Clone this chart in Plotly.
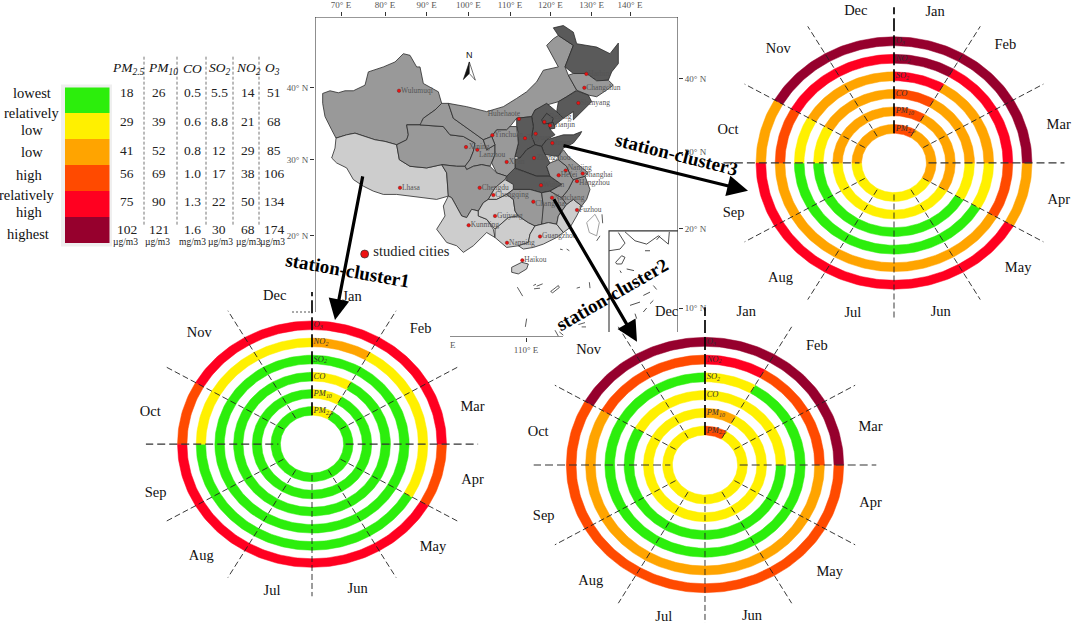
import numpy as np
import plotly.graph_objects as go

W, H = 1072, 623
SERIF = "Liberation Serif"

# ---- data ----
months = ["Jan", "Feb", "Mar", "Apr", "May", "Jun", "Jul", "Aug", "Sep", "Oct", "Nov", "Dec"]
month_label_angles = [14, 41, 76, 104, 133, 164, 194, 222, 251, 282, 317, 347]
ring_names = ["PM<sub>2.5</sub>", "PM<sub>10</sub>", "CO", "SO<sub>2</sub>", "NO<sub>2</sub>", "O<sub>3</sub>"]

level_names = ["lowest", "relatively", "low", "low", "high", "relatively", "high", "highest"]
level_colors = ["#2CEE0C", "#FFF000", "#FFA400", "#FF4A00", "#FF0020", "#96002D"]

# level index per month, inner ring first
cluster1_pm25 = [1, 0, 0, 0, 0, 0, 0, 0, 0, 0, 0, 0]
cluster1_pm10 = [1, 0, 0, 0, 0, 0, 0, 0, 0, 0, 0, 0]
cluster1_co = [1, 0, 0, 0, 0, 0, 0, 0, 0, 0, 0, 0]
cluster1_so2 = [0, 0, 0, 0, 0, 0, 0, 0, 0, 0, 0, 0]
cluster1_no2 = [2, 1, 1, 1, 0, 0, 0, 0, 0, 1, 1, 1]
cluster1_o3 = [4, 4, 4, 3, 4, 4, 4, 4, 4, 3, 4, 4]

cluster2_pm25 = [3, 1, 1, 1, 1, 1, 1, 1, 1, 1, 1, 1]
cluster2_pm10 = [2, 1, 1, 1, 1, 1, 1, 1, 1, 1, 1, 1]
cluster2_co = [1, 1, 1, 0, 0, 0, 0, 0, 0, 0, 1, 1]
cluster2_so2 = [1, 0, 0, 0, 0, 0, 0, 0, 0, 0, 0, 0]
cluster2_no2 = [4, 3, 3, 2, 2, 2, 2, 2, 2, 2, 3, 3]
cluster2_o3 = [5, 5, 5, 3, 3, 3, 3, 3, 3, 3, 5, 5]

cluster3_pm25 = [3, 2, 2, 2, 1, 1, 1, 1, 1, 2, 2, 2]
cluster3_pm10 = [3, 2, 2, 2, 1, 1, 1, 1, 1, 2, 2, 2]
cluster3_co = [3, 2, 2, 1, 0, 0, 0, 0, 0, 1, 2, 2]
cluster3_so2 = [4, 2, 2, 1, 0, 0, 0, 0, 0, 1, 2, 2]
cluster3_no2 = [5, 4, 4, 3, 2, 2, 2, 2, 2, 3, 4, 4]
cluster3_o3 = [5, 5, 5, 2, 4, 4, 4, 4, 4, 2, 5, 5]

# legend table
table_headers = ["PM<sub>2.5</sub>", "PM<sub>10</sub>", "CO", "SO<sub>2</sub>", "NO<sub>2</sub>", "O<sub>3</sub>"]
table_pm25 = ["18", "29", "41", "56", "75", "102"]
table_pm10 = ["26", "39", "52", "69", "90", "121"]
table_co = ["0.5", "0.6", "0.8", "1.0", "1.3", "1.6"]
table_so2 = ["5.5", "8.8", "12", "17", "22", "30"]
table_no2 = ["14", "21", "29", "38", "50", "68"]
table_o3 = ["51", "68", "85", "106", "134", "174"]
table_units = ["µg/m3", "µg/m3", "mg/m3", "µg/m3", "µg/m3", "µg/m3"]

# map outlines in map-plane units
GREY_D, GREY_M, GREY_L = "#5A5A5A", "#999999", "#CDCDCD"
xinjiang = [(38, 270), (60, 262), (85, 268), (105, 262), (130, 262), (165, 245), (175, 205), (220, 190), (255, 175), (280, 150), (300, 155), (320, 190), (330, 190), (340, 240), (385, 265), (395, 300), (375, 320), (340, 345), (335, 355), (350, 360), (330, 365), (290, 365), (295, 395), (290, 410), (260, 425), (225, 415), (195, 410), (165, 400), (135, 390), (110, 395), (78, 405), (65, 380), (45, 340), (38, 300)]
tibet = [(78, 405), (110, 395), (135, 390), (165, 400), (195, 410), (225, 415), (260, 425), (268, 470), (300, 490), (350, 495), (395, 485), (410, 510), (415, 580), (380, 590), (340, 585), (300, 580), (260, 575), (220, 575), (190, 565), (160, 550), (130, 530), (110, 495), (80, 480), (65, 465), (75, 435)]
qinghai = [(290, 365), (330, 365), (400, 370), (420, 395), (460, 400), (495, 420), (490, 445), (480, 470), (465, 490), (440, 490), (395, 485), (350, 495), (300, 490), (268, 470), (260, 425), (290, 410), (295, 395)]
gansu = [(335, 355), (340, 345), (375, 320), (395, 300), (415, 300), (430, 345), (500, 395), (520, 410), (530, 440), (555, 425), (555, 455), (545, 480), (540, 490), (515, 485), (490, 490), (470, 500), (465, 490), (480, 470), (490, 445), (495, 420), (460, 400), (420, 395), (400, 370), (330, 365)]
inner_mongolia = [(415, 300), (470, 310), (530, 325), (580, 310), (620, 285), (650, 265), (680, 235), (700, 200), (745, 190), (710, 125), (730, 105), (745, 95), (790, 125), (765, 190), (775, 215), (800, 260), (770, 280), (745, 295), (710, 305), (675, 320), (665, 340), (620, 345), (600, 370), (590, 380), (560, 380), (545, 400), (520, 410), (500, 395), (430, 345)]
heilongjiang = [(730, 72), (760, 65), (790, 85), (800, 120), (860, 130), (900, 150), (925, 118), (925, 180), (905, 205), (895, 230), (860, 232), (830, 210), (790, 210), (765, 190), (790, 125), (745, 95)]
jilin = [(775, 215), (790, 210), (830, 210), (860, 232), (895, 230), (910, 245), (890, 260), (860, 280), (835, 275), (810, 265), (800, 260)]
liaoning = [(800, 262), (835, 275), (845, 295), (820, 320), (790, 350), (790, 325), (760, 345), (740, 325), (745, 295), (770, 280)]
hebei = [(665, 340), (675, 320), (710, 300), (740, 325), (760, 345), (730, 370), (720, 378), (735, 395), (710, 410), (695, 430), (675, 425), (665, 400), (670, 370)]
beijing = [(695, 350), (710, 330), (730, 345), (725, 360), (700, 362)]
tianjin = [(715, 360), (730, 358), (735, 375), (720, 378)]
shanxi = [(620, 345), (665, 340), (670, 370), (665, 400), (675, 425), (650, 440), (630, 465), (615, 460), (625, 420), (625, 390), (620, 370)]
shandong = [(695, 430), (710, 410), (760, 395), (790, 395), (815, 385), (810, 395), (790, 420), (760, 435), (745, 460), (705, 455), (700, 445)]
henan = [(630, 465), (650, 440), (675, 425), (695, 430), (700, 445), (705, 455), (720, 480), (710, 490), (720, 520), (680, 520), (640, 505), (615, 495), (615, 470)]
hubei = [(590, 520), (610, 495), (640, 505), (680, 520), (720, 520), (755, 545), (720, 565), (695, 570), (660, 560), (610, 560), (590, 572)]
shaanxi = [(590, 380), (600, 370), (620, 370), (625, 420), (615, 460), (615, 495), (590, 520), (560, 510), (545, 480), (555, 455), (555, 425), (545, 400), (560, 380)]
ningxia = [(520, 410), (545, 400), (555, 425), (530, 440)]
sichuan = [(395, 485), (440, 490), (465, 490), (470, 500), (490, 490), (515, 485), (540, 490), (560, 510), (590, 520), (585, 530), (555, 555), (535, 590), (520, 600), (505, 625), (485, 620), (470, 645), (455, 640), (425, 585), (415, 580), (410, 510)]
chongqing = [(585, 530), (610, 545), (610, 560), (590, 575), (560, 590), (535, 590), (555, 555)]
yunnan = [(415, 580), (425, 585), (455, 640), (470, 645), (485, 620), (505, 625), (505, 640), (530, 650), (550, 680), (555, 705), (530, 690), (490, 730), (460, 750), (440, 730), (410, 720), (380, 680), (405, 640), (400, 610)]
guizhou = [(505, 625), (520, 600), (535, 590), (560, 590), (590, 575), (610, 590), (615, 625), (625, 640), (595, 645), (555, 680), (530, 650), (505, 640)]
guangxi = [(555, 680), (595, 645), (625, 640), (655, 660), (675, 670), (660, 695), (655, 720), (625, 730), (590, 735), (555, 705)]
hunan = [(590, 575), (610, 560), (660, 560), (695, 570), (700, 610), (700, 640), (695, 665), (675, 670), (655, 660), (625, 640), (615, 625), (610, 590)]
jiangxi = [(695, 570), (720, 565), (755, 585), (770, 605), (745, 640), (740, 665), (715, 660), (695, 665), (700, 610)]
guangdong = [(655, 720), (660, 695), (675, 670), (695, 665), (715, 660), (740, 665), (760, 690), (740, 705), (700, 725), (670, 735), (640, 740), (625, 730)]
fujian = [(770, 605), (790, 590), (815, 610), (800, 640), (780, 675), (760, 690), (740, 665), (745, 640)]
zhejiang = [(790, 530), (825, 520), (840, 560), (830, 590), (815, 610), (790, 590), (770, 605), (755, 585), (775, 560)]
anhui = [(720, 480), (745, 470), (770, 490), (785, 525), (790, 530), (775, 560), (755, 585), (720, 565), (755, 545), (720, 520), (710, 490)]
jiangsu = [(745, 460), (760, 440), (775, 460), (810, 490), (835, 510), (825, 520), (790, 530), (785, 525), (770, 490), (745, 470)]
hainan = [(605, 795), (635, 780), (655, 785), (650, 800), (625, 815), (605, 810)]

provinces = [
    (xinjiang, GREY_M), (tibet, GREY_L), (qinghai, GREY_M), (gansu, GREY_M),
    (inner_mongolia, GREY_M), (heilongjiang, GREY_D), (jilin, GREY_M), (liaoning, GREY_D),
    (hebei, GREY_D), (beijing, GREY_D), (tianjin, GREY_D), (shanxi, GREY_D), (shandong, GREY_D),
    (henan, GREY_D), (hubei, GREY_D), (shaanxi, GREY_M), (ningxia, GREY_M), (sichuan, GREY_M),
    (chongqing, GREY_L), (yunnan, GREY_L), (guizhou, GREY_L), (guangxi, GREY_L), (hunan, GREY_M),
    (jiangxi, GREY_M), (guangdong, GREY_L), (fujian, GREY_L), (zhejiang, GREY_M), (anhui, GREY_M),
    (jiangsu, GREY_M), (hainan, GREY_L),
]

city_names = ["Wulumuqi", "Lhasa", "Huhehaote", "Yinchuan", "Xining", "Lanzhou", "Xi'an", "Taiyuan", "Beijing", "Tianjin", "Jinan", "Zhengzhou", "Nanjing", "Hefei", "Shanghai", "Hangzhou", "Wuhan", "Nanchang", "Changsha", "Chengdu", "Chongqing", "Guiyang", "Kunming", "Nanning", "Guangzhou", "Fuzhou", "Haikou", "Harbin", "Changchun", "Shenyang"]
city_x = [267, 270, 627, 547, 468, 502, 590, 645, 703, 720, 727, 672, 767, 746, 818, 801, 693, 726, 670, 509, 550, 555, 476, 591, 690, 801, 637, 829, 823, 805, 677]
city_y = [262, 555, 347, 396, 432, 440, 477, 405, 356, 367, 420, 465, 503, 517, 512, 535, 547, 585, 597, 555, 577, 640, 668, 721, 702, 622, 774, 211, 253, 299, 392]
label_x = [273, 276, 533, 553, 476, 507, 596, 651, 718, 731, 733, 680, 773, 752, 824, 807, 699, 732, 676, 515, 556, 561, 482, 597, 696, 807, 643, 835, 829, 811]
label_y = [262, 555, 332, 396, 432, 455, 477, 405, 343, 367, 420, 465, 495, 517, 517, 540, 547, 585, 605, 555, 577, 640, 668, 721, 702, 622, 774, 211, 253, 299]

taiwan = [(830, 660), (855, 635), (868, 660), (860, 700), (838, 690), (830, 660)]
sea_strokes = [
    [(876, 635), (878, 662)], [(860, 715), (870, 700)], [(750, 740), (758, 742)], [(770, 740), (778, 745)],
    [(622, 855), (638, 882)], [(722, 868), (745, 850), (748, 856), (728, 872), (722, 868)], [(838, 840), (840, 858)],
    [(800, 858), (810, 855)], [(650, 950), (646, 975)], [(670, 850), (678, 846)], [(672, 860), (690, 858)], [(680, 852), (698, 845)],
    [(805, 968), (825, 962)], [(815, 975), (828, 975)], [(748, 990), (760, 1000)], [(735, 985), (745, 1003)],
]
inset_strokes = [
    [(897, 745), (930, 740), (945, 722), (935, 705), (925, 690)],
    [(945, 688), (975, 715), (1010, 725), (1045, 700), (1075, 725), (1078, 688)],
    [(1040, 712), (1050, 700)], [(917, 780), (935, 760), (945, 765), (935, 785), (920, 785), (917, 780)],
    [(930, 805), (934, 812)], [(950, 800), (972, 805)], [(1005, 745), (1020, 745)],
    [(1030, 850), (1040, 862)], [(1000, 880), (1020, 870)], [(960, 910), (990, 900)], [(1020, 905), (1030, 895)],
    [(975, 935), (980, 950)], [(1000, 930), (1010, 918)],
]
north_left = [(478, 175), (460, 228), (478, 210)]
north_right = [(478, 175), (496, 230), (478, 210)]

# ---- figure ----
fig = go.Figure()
layout_extra = {}
annotations = []
shapes = []


def px_domain(x0, x1, y0, y1):
    return [x0 / W, x1 / W], [1 - y1 / H, 1 - y0 / H]


# full page helper axis for the text
layout_extra["xaxis"] = dict(domain=[0, 1], range=[0, W], visible=False, fixedrange=True)
layout_extra["yaxis"] = dict(domain=[0, 1], range=[H, 0], visible=False, fixedrange=True)
fig.add_trace(go.Scatter(x=[0], y=[0], mode="markers", marker=dict(opacity=0), showlegend=False, hoverinfo="skip"))


def note(x, y, text, size=14, color="#111111", **kw):
    annotations.append(dict(x=x, y=y, xref="x", yref="y", text=text, showarrow=False,
                            font=dict(family=SERIF, size=size, color=color), **kw))


def arrow(x0, y0, x1, y1):
    annotations.append(dict(x=x1, y=y1, ax=x0, ay=y0, xref="x", yref="y", axref="x", ayref="y", text="",
                            showarrow=True, arrowhead=2, arrowsize=1.3, arrowwidth=3.2, arrowcolor="#000000"))


# ---- map ----
MAP_RANGE_X = [15, 1104]
MAP_RANGE_Y = [1005, 39]
dx, dy = px_domain(315, 678, 13, 335)
tick_font = dict(family=SERIF, size=9, color="#555555")
layout_extra["xaxis2"] = dict(domain=dx, range=MAP_RANGE_X, anchor="y2", side="top", showgrid=False, zeroline=False,
                              ticks="outside", ticklen=4, tickcolor="#333333", tickfont=tick_font,
                              tickvals=[93, 225, 350, 475, 600, 721, 845, 960],
                              ticktext=["70° E", "80° E", "90° E", "100° E", "110° E", "120° E", "130° E", "140° E"],
                              fixedrange=True)
layout_extra["yaxis2"] = dict(domain=dy, range=MAP_RANGE_Y, anchor="x2", side="left", showgrid=False, zeroline=False,
                              ticks="outside", ticklen=4, tickcolor="#333333", tickfont=tick_font,
                              tickvals=[252, 471, 699], ticktext=["40° N", "30° N", "20° N"], fixedrange=True)
layout_extra["xaxis3"] = dict(range=MAP_RANGE_X, domain=dx, anchor="y3", overlaying="x2", side="bottom", showgrid=False, zeroline=False,
                              ticks="outside", ticklen=4, tickcolor="#333333", tickfont=tick_font,
                              tickvals=[648], ticktext=["110° E"], fixedrange=True)
layout_extra["yaxis3"] = dict(range=MAP_RANGE_Y, domain=dy, anchor="x3", overlaying="y2", side="right", showgrid=False, zeroline=False,
                              ticks="outside", ticklen=4, tickcolor="#333333", tickfont=tick_font,
                              tickvals=[225, 447, 678, 918], ticktext=["40° N", "30° N", "20° N", "10° N"], fixedrange=True)

for poly, colour in provinces:
    xs = [p[0] for p in poly] + [poly[0][0]]
    ys = [p[1] for p in poly] + [poly[0][1]]
    fig.add_trace(go.Scatter(x=xs, y=ys, mode="lines", fill="toself", fillcolor=colour, xaxis="x2", yaxis="y2",
                             line=dict(color="#2A2A2A", width=0.8), showlegend=False, hoverinfo="skip"))


def strokes(groups, colour, width, axes=("x2", "y2")):
    xs, ys = [], []
    for g in groups:
        xs += [p[0] for p in g] + [None]
        ys += [p[1] for p in g] + [None]
    fig.add_trace(go.Scatter(x=xs, y=ys, mode="lines", line=dict(color=colour, width=width), xaxis=axes[0], yaxis=axes[1],
                             showlegend=False, hoverinfo="skip", cliponaxis=False))


strokes([taiwan], "#888888", 0.8)
strokes(sea_strokes, "#333333", 0.8)
strokes(inset_strokes, "#222222", 0.8)
# frame, only the parts the ring charts do not cover
strokes([[(15, 930), (15, 39), (1104, 39), (1104, 990)], [(420, 1005), (759, 1005)],
         [(897, 990), (897, 685), (1104, 685)]], "#333333", 1.1, axes=("x3", "y3"))

fig.add_trace(go.Scatter(x=[p[0] for p in north_left] + [north_left[0][0]], y=[p[1] for p in north_left] + [north_left[0][1]],
                         mode="lines", fill="toself", fillcolor="#111111", line=dict(color="#111111", width=0.6),
                         xaxis="x2", yaxis="y2", showlegend=False, hoverinfo="skip"))
fig.add_trace(go.Scatter(x=[p[0] for p in north_right] + [north_right[0][0]], y=[p[1] for p in north_right] + [north_right[0][1]],
                         mode="lines", fill="toself", fillcolor="#FFFFFF", line=dict(color="#111111", width=0.6),
                         xaxis="x2", yaxis="y2", showlegend=False, hoverinfo="skip"))
fig.add_trace(go.Scatter(x=[478], y=[155], mode="text", text=["N"], textfont=dict(family="Liberation Sans", size=9, color="#111111"),
                         xaxis="x2", yaxis="y2", showlegend=False, hoverinfo="skip"))

fig.add_trace(go.Scatter(x=city_x, y=city_y, mode="markers", marker=dict(color="#EE1111", size=3.5, line=dict(color="#552222", width=0.4)),
                         xaxis="x2", yaxis="y2", showlegend=False, hoverinfo="skip"))
fig.add_trace(go.Scatter(x=label_x, y=label_y, mode="text", text=city_names, textposition="middle right",
                         textfont=dict(family=SERIF, size=7.5, color="#555555"),
                         xaxis="x2", yaxis="y2", showlegend=False, hoverinfo="skip"))
fig.add_trace(go.Scatter(x=[164], y=[755], mode="markers", marker=dict(color="#EE1111", size=8, line=dict(color="#333333", width=0.7)),
                         xaxis="x2", yaxis="y2", showlegend=False, hoverinfo="skip"))
fig.add_trace(go.Scatter(x=[190], y=[750], mode="text", text=["studied cities"], textposition="middle right",
                         textfont=dict(family=SERIF, size=14.5, color="#222222"),
                         xaxis="x2", yaxis="y2", showlegend=False, hoverinfo="skip"))
note(453, 343, "E", size=9, color="#555555")
shapes.append(dict(type="line", xref="x", yref="y", x0=292, x1=311, y0=310, y1=310, line=dict(color="#555555", width=1, dash="2px,2px")))

# ---- ring charts ----
RING_OUTER = [0.305, 0.444, 0.583, 0.722, 0.861, 1.0]
RING_WIDTH = 0.07
BOX = 1.235


def arc_polygon(r_out, r_in, a0, a1):
    t = np.radians(np.linspace(a0, a1, 24))
    xs = list(r_out * np.sin(t)) + list(r_in * np.sin(t[::-1])) + [r_out * np.sin(t[0])]
    ys = list(r_out * np.cos(t)) + list(r_in * np.cos(t[::-1])) + [r_out * np.cos(t[0])]
    return xs, ys


def ring_chart(idx, cx, cy, rx, ry, rings):
    xa, ya = f"x{idx}", f"y{idx}"
    dx, dy = px_domain(cx - BOX * rx, cx + BOX * rx, cy - BOX * ry, cy + BOX * ry)
    layout_extra[f"xaxis{idx}"] = dict(domain=dx, range=[-BOX, BOX], visible=False, anchor=ya, fixedrange=True)
    layout_extra[f"yaxis{idx}"] = dict(domain=dy, range=[-BOX, BOX], visible=False, anchor=xa, fixedrange=True)
    for level, colour in enumerate(level_colors):
        xs, ys = [], []
        for ring, values in enumerate(rings):
            for m, v in enumerate(values):
                if v == level:
                    px, py = arc_polygon(RING_OUTER[ring], RING_OUTER[ring] - RING_WIDTH, 30 * m, 30 * (m + 1))
                    xs += px + [None]
                    ys += py + [None]
        if xs:
            fig.add_trace(go.Scatter(x=xs, y=ys, mode="lines", fill="toself", fillcolor=colour, line=dict(color=colour, width=0.5),
                                     xaxis=xa, yaxis=ya, showlegend=False, hoverinfo="skip"))
    # spokes
    xs, ys = [], []
    for a in range(30, 360, 30):
        if a in (90, 270):
            continue
        t = np.radians(a)
        r0, r1 = (0.245, 1.25) if a % 90 else (0.25, 1.31)
        xs += [r0 * np.sin(t), r1 * np.sin(t), None]
        ys += [r0 * np.cos(t), r1 * np.cos(t), None]
    fig.add_trace(go.Scatter(x=xs, y=ys, mode="lines", line=dict(color="#222222", width=0.9, dash="6px,3px"),
                             xaxis=xa, yaxis=ya, showlegend=False, hoverinfo="skip", cliponaxis=False))
    fig.add_trace(go.Scatter(x=[-1.24, -0.25, None, 0.25, 1.24], y=[0, 0, None, 0, 0], mode="lines",
                             line=dict(color="#333333", width=1.2, dash="8px,4px"),
                             xaxis=xa, yaxis=ya, showlegend=False, hoverinfo="skip", cliponaxis=False))
    fig.add_trace(go.Scatter(x=[0, 0], y=[0.235, 1.31], mode="lines", line=dict(color="#000000", width=1.7, dash="13px,4px"),
                             xaxis=xa, yaxis=ya, showlegend=False, hoverinfo="skip", cliponaxis=False))
    # ring names
    fig.add_trace(go.Scatter(x=[0.012] * 6, y=[r - RING_WIDTH / 2 for r in RING_OUTER],
                             mode="text", text=[f"<i>{n}</i>" for n in ring_names], textposition="middle right",
                             textfont=dict(family=SERIF, size=8.5, color="#333333"),
                             xaxis=xa, yaxis=ya, showlegend=False, hoverinfo="skip", cliponaxis=False))
    # month names
    t = np.radians(month_label_angles)
    fig.add_trace(go.Scatter(x=1.23 * np.sin(t), y=1.23 * np.cos(t), mode="text", text=months,
                             textfont=dict(family=SERIF, size=14.5, color="#111111"),
                             xaxis=xa, yaxis=ya, showlegend=False, hoverinfo="skip", cliponaxis=False))


ring_chart(4, 312, 443, 134.5, 124, [cluster1_pm25, cluster1_pm10, cluster1_co, cluster1_so2, cluster1_no2, cluster1_o3])
ring_chart(5, 705, 464, 138.7, 128.5, [cluster2_pm25, cluster2_pm10, cluster2_co, cluster2_so2, cluster2_no2, cluster2_o3])
ring_chart(6, 894, 160, 138, 127, [cluster3_pm25, cluster3_pm10, cluster3_co, cluster3_so2, cluster3_no2, cluster3_o3])

# ---- legend table ----
shapes.append(dict(type="rect", xref="x", yref="y", x0=61, x1=112, y0=81, y1=244, fillcolor="#EFEFEF", line=dict(width=0), layer="below"))
dx, dy = px_domain(65, 109.5, 84, 241)
layout_extra["xaxis7"] = dict(domain=dx, visible=False, anchor="y7", fixedrange=True)
layout_extra["yaxis7"] = dict(domain=dy, range=[6, 0], visible=False, anchor="x7", fixedrange=True)
for colour in level_colors:
    fig.add_trace(go.Bar(x=["swatch"], y=[1], marker=dict(color=colour, line=dict(width=0)), width=1,
                         xaxis="x7", yaxis="y7", showlegend=False, hoverinfo="skip"))

column_x = [127, 159, 192, 219, 248, 274]
header_x = [128, 163, 192, 220, 248, 272]
row_y = [89.5, 118, 147, 171, 199, 227]
unit_x = [125, 157, 192, 220, 248, 272]
columns = [table_pm25, table_pm10, table_co, table_so2, table_no2, table_o3]
for hx, cx, ux, head, col, unit in zip(header_x, column_x, unit_x, table_headers, columns, table_units):
    note(hx, 65, f"<i>{head}</i>", size=13.5)
    for ry, val in zip(row_y, col):
        note(cx, ry, val, size=13.5, color="#222222")
    note(ux, 240, unit, size=9.5, color="#222222")

level_x = [32, 32, 32, 32, 29, 27, 29, 28]
level_y = [90, 110, 127, 149, 172, 192, 209, 231]
for lx, ly, name in zip(level_x, level_y, level_names):
    note(lx, ly, name, size=14.5)

for x in [144, 177, 206, 233, 259]:
    shapes.append(dict(type="line", xref="x", yref="y", x0=x, x1=x, y0=53, y1=223, line=dict(color="#777777", width=1, dash="3px,2px")))

# ---- callouts ----
arrow(363, 172, 335, 318)
arrow(553, 195, 637, 340)
arrow(562, 142, 748, 188)
note(348, 268, "<b>station-cluster1</b>", size=19, color="#000000", textangle=10)
note(612, 292, "<b>station-cluster2</b>", size=19, color="#000000", textangle=-30)
note(677, 151, "<b>station-cluster3</b>", size=19, color="#000000", textangle=14)

fig.update_layout(width=W, height=H, margin=dict(l=0, r=0, t=0, b=0), paper_bgcolor="white", plot_bgcolor="rgba(0,0,0,0)",
                  showlegend=False, barmode="stack", bargap=0, annotations=annotations, shapes=shapes, **layout_extra)

# the page's default body margin would push the figure 8px off
fig.write_html("out.html", config={"displayModeBar": False},
               post_script="document.body.style.margin='0';document.body.style.overflow='hidden';")
